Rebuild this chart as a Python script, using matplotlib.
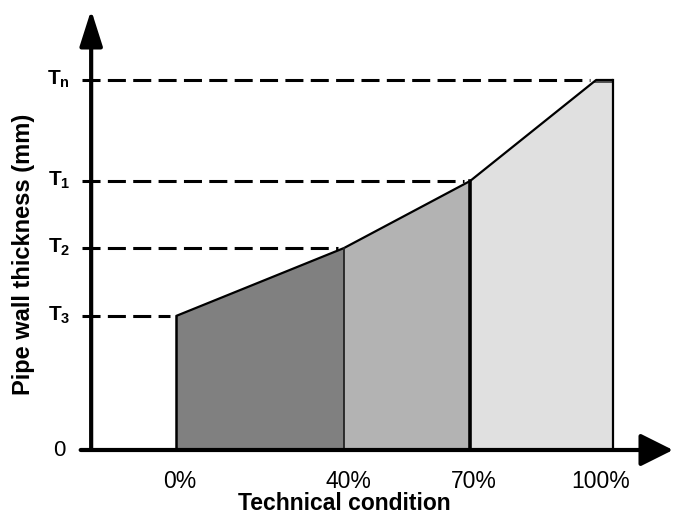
import matplotlib.pyplot as plt

plt.rcParams['font.family'] = ['Liberation Sans', 'DejaVu Sans']
plt.rcParams['mathtext.fontset'] = 'custom'
plt.rcParams['mathtext.bf'] = 'Liberation Sans:bold'
plt.rcParams['mathtext.rm'] = 'Liberation Sans'

# condition (%) and wall thickness levels (schematic units)
cond = [0, 40, 70, 100]
thick = [134, 202, 269, 370]
t_labels = [r'$\mathbf{T_3}$', r'$\mathbf{T_2}$', r'$\mathbf{T_1}$', r'$\mathbf{T_n}$']
x_labels = ['0%', '40%', '70%', '100%']
seg_colors = ['#808080', '#b3b3b3', '#e0e0e0']
cap_end = 104

fig = plt.figure(figsize=(6.73, 5.17), dpi=100)
ax = fig.add_axes([0, 0, 1, 1])
ax.set_xlim(-41.9, 118.3)
ax.set_ylim(-67, 450)
ax.axis('off')

y_ax = -20.2  # position of the vertical axis

# shaded segments
xs = cond + [cap_end]
ys = thick + [thick[-1]]
for i in range(3):
    x0, x1 = xs[i], xs[i + 1]
    y0, y1 = ys[i], ys[i + 1]
    if i == 2:
        ax.fill([x0, x1, cap_end, cap_end, x0], [y0, y1, y1, 0, 0], color=seg_colors[i], lw=0)
    else:
        ax.fill([x0, x1, x1, x0], [y0, y1, 0, 0], color=seg_colors[i], lw=0)
# small dark cap on top of the last segment
ax.fill([cond[-1], cap_end, cap_end, cond[-1] - 1], [thick[-1], thick[-1], thick[-1] - 3, thick[-1] - 3],
        color='#555555', lw=0)

# outline
ax.plot(xs, ys, color='k', lw=1.6, solid_capstyle='butt')
ax.plot([cond[0], cond[0]], [0, thick[0]], color='k', lw=1.8)
ax.plot([cond[1], cond[1]], [0, thick[1]], color='#222222', lw=1.3)
ax.plot([cond[2], cond[2]], [0, thick[2]], color='k', lw=2.6)
ax.plot([cap_end, cap_end], [0, thick[-1]], color='k', lw=1.6)

# dashed guides
for c, t in zip(cond, thick):
    ax.plot([y_ax - 2.2, c - 1.5], [t, t], color='k', lw=2.2, linestyle=(0, (5.9, 2.4)))

# axes with arrows
ax.annotate('', xy=(118.3, 0), xytext=(y_ax - 2.5, 0),
            arrowprops=dict(arrowstyle='-|>,head_length=1.0,head_width=0.5', lw=3, color='k',
                            mutation_scale=20, shrinkA=0, shrinkB=0))
ax.annotate('', xy=(y_ax, 440), xytext=(y_ax, 0),
            arrowprops=dict(arrowstyle='-|>,head_length=1.1,head_width=0.35', lw=3, color='k',
                            mutation_scale=20, shrinkA=0, shrinkB=0))

# labels
for t, lab in zip(thick, t_labels):
    ax.text(y_ax - 5, t + 1, lab, ha='right', va='center', fontsize=15)
ax.text(y_ax - 6, 0, '0', ha='right', va='center', fontsize=16)
for c, lab in zip(cond, x_labels):
    ax.text(c + 1, -32, lab, ha='center', va='center', fontsize=16.5)
ax.text(40, -54, 'Technical condition', ha='center', va='center', fontsize=16.5, fontweight='bold')
ax.text(-36.2, 196, 'Pipe wall thickness (mm)', ha='center', va='center', rotation=90,
        fontsize=17, fontweight='bold')

fig.savefig('out.png', dpi=100)
